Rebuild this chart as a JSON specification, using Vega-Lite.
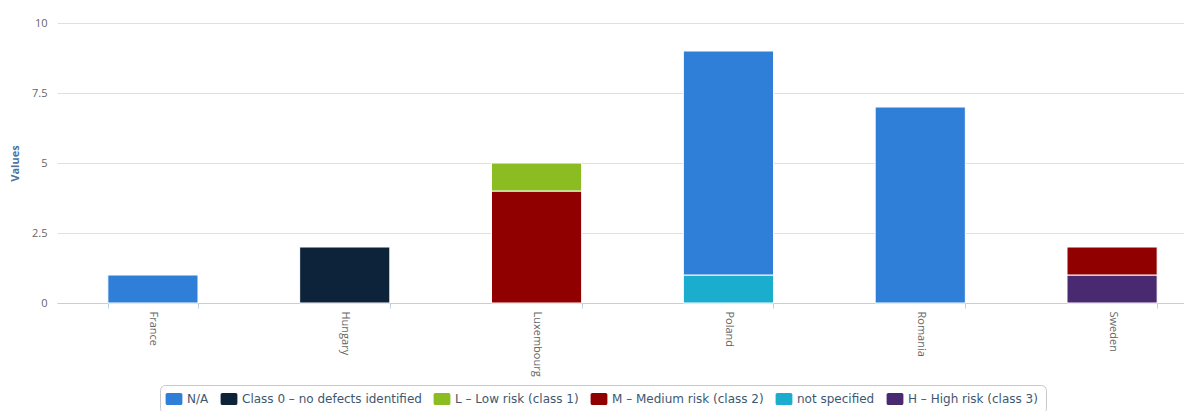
{
  "$schema": "https://vega.github.io/schema/vega-lite/v6.json",
  "autosize": {"type": "none"},
  "width": 1127,
  "height": 280,
  "padding": {"left": 57, "top": 23, "right": 0, "bottom": 108},
  "background": "white",
  "config": {
    "view": {"stroke": null},
    "font": "Open Sans"
  },
  "data": {
    "values": [
      {"country": "France", "type": "N/A", "rank": 0, "value": 1},
      {"country": "Hungary", "type": "Class 0 – no defects identified", "rank": 1, "value": 2},
      {"country": "Luxembourg", "type": "M – Medium risk (class 2)", "rank": 3, "value": 4},
      {"country": "Luxembourg", "type": "L – Low risk (class 1)", "rank": 2, "value": 1},
      {"country": "Poland", "type": "not specified", "rank": 4, "value": 1},
      {"country": "Poland", "type": "N/A", "rank": 0, "value": 8},
      {"country": "Romania", "type": "N/A", "rank": 0, "value": 7},
      {"country": "Sweden", "type": "H – High risk (class 3)", "rank": 5, "value": 1},
      {"country": "Sweden", "type": "M – Medium risk (class 2)", "rank": 3, "value": 1}
    ]
  },
  "mark": {"type": "bar", "stroke": "white", "strokeWidth": 1},
  "encoding": {
    "x": {
      "field": "country",
      "type": "nominal",
      "sort": ["France", "Hungary", "Luxembourg", "Poland", "Romania", "Sweden"],
      "scale": {"range": [0, 1151], "paddingInner": 0.53, "paddingOuter": 0.265},
      "axis": {
        "title": null,
        "labelAngle": 90,
        "labelAlign": "left",
        "labelBaseline": "middle",
        "labelColor": "#666666",
        "labelFontSize": 11,
        "labelPadding": 3,
        "domainColor": "#c0d0e0",
        "domainWidth": 1,
        "tickColor": "#c0d0e0",
        "tickSize": 5,
        "tickBand": "extent",
        "grid": false
      }
    },
    "y": {
      "field": "value",
      "type": "quantitative",
      "aggregate": "sum",
      "stack": "zero",
      "scale": {"domain": [0, 10], "nice": false},
      "axis": {
        "title": "Values",
        "titleColor": "#4d759e",
        "titleFontSize": 11,
        "titleFontWeight": "bold",
        "titleX": -42,
        "titleY": 140,
        "titleAngle": -90,
        "titleAlign": "center",
        "titleBaseline": "middle",
        "values": [0, 2.5, 5, 7.5, 10],
        "format": ".1~f",
        "labelColor": "#666666",
        "labelFontSize": 11,
        "labelPadding": 10,
        "ticks": false,
        "domain": false,
        "gridColor": "#e0e0e0",
        "gridWidth": 1
      }
    },
    "color": {
      "field": "type",
      "type": "nominal",
      "scale": {
        "domain": ["N/A", "Class 0 – no defects identified", "L – Low risk (class 1)", "M – Medium risk (class 2)", "not specified", "H – High risk (class 3)"],
        "range": ["#2f7ed8", "#0d233a", "#8bbc21", "#910000", "#1aadce", "#492970"]
      },
      "legend": {
        "title": null,
        "orient": "none",
        "direction": "horizontal",
        "columns": 6,
        "legendX": 103,
        "legendY": 362,
        "padding": 8,
        "strokeColor": "#c8c8c8",
        "cornerRadius": 5,
        "fillColor": "white",
        "symbolType": "M-1.1,-1H1.1A0.3,0.3 0 0 1 1.4,-0.7V0.7A0.3,0.3 0 0 1 1.1,1H-1.1A0.3,0.3 0 0 1 -1.4,0.7V-0.7A0.3,0.3 0 0 1 -1.1,-1Z",
        "symbolSize": 144,
        "symbolStrokeWidth": 0,
        "labelFont": "DejaVu Sans",
        "labelFontSize": 12,
        "labelColor": "#3e576f",
        "labelOffset": 7,
        "labelLimit": 400,
        "columnPadding": 11
      }
    },
    "order": {"field": "rank", "type": "quantitative", "sort": "descending"}
  }
}
